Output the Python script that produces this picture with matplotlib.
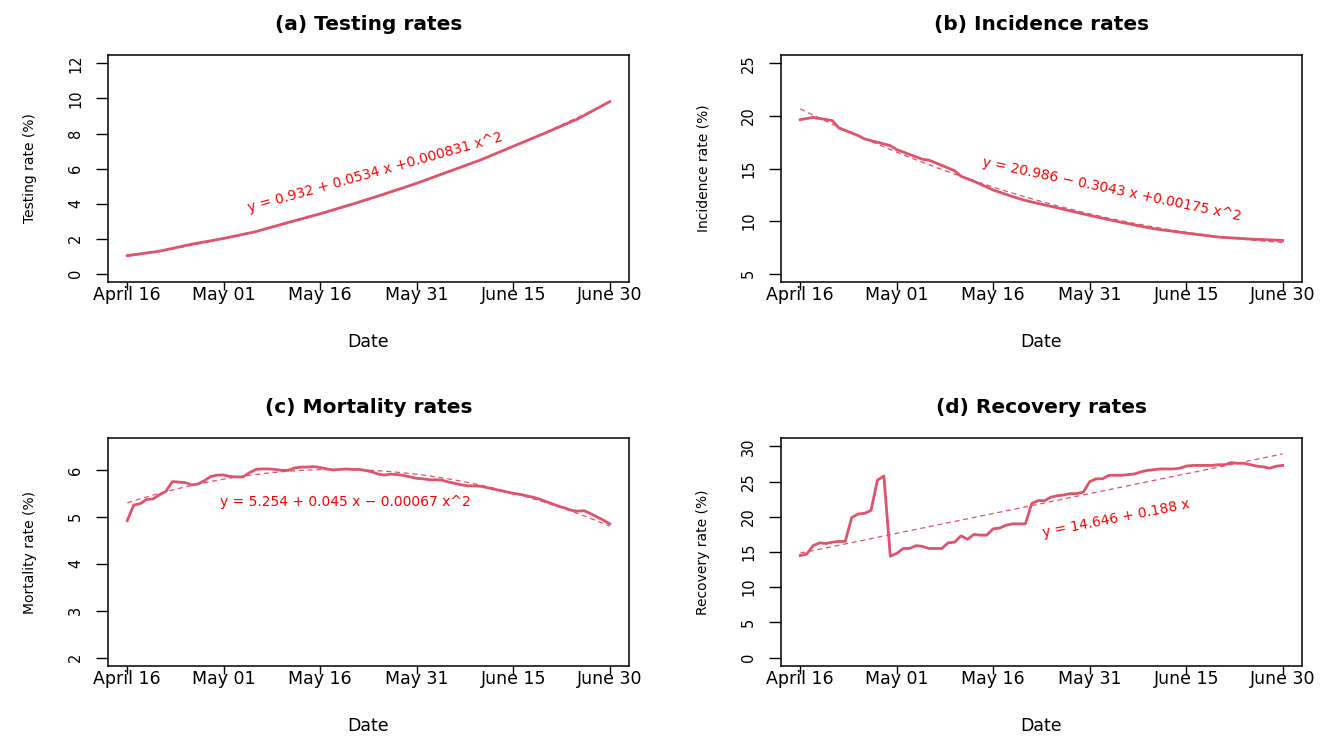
import matplotlib
matplotlib.use('Agg')
import matplotlib.pyplot as plt
import numpy as np

# day index: 1 = April 16 ... 76 = June 30
tick_days = [1, 16, 31, 46, 61, 76]
tick_labels = ['April 16', 'May 01', 'May 16', 'May 31', 'June 15', 'June 30']

# (a) testing rate, read every 5 days
testing_days = [1, 6, 11, 16, 21, 26, 31, 36, 41, 46, 51, 56, 61, 66, 71, 76]
testing_rate = [1.03, 1.28, 1.68, 2.01, 2.40, 2.92, 3.42, 3.97, 4.55, 5.16,
                5.83, 6.50, 7.27, 8.03, 8.83, 9.82]
testing_fit = [0.932, 0.0534, 0.000831]

# (b) incidence rate
incidence_days = [1, 3, 6, 7, 10, 11, 15, 16, 20, 21, 24, 25, 26, 28, 31,
                  34, 36, 41, 46, 51, 56, 61, 66, 71, 76]
incidence_rate = [19.65, 19.87, 19.56, 18.86, 18.14, 17.82, 17.18, 16.80,
                  15.88, 15.80, 15.05, 14.79, 14.26, 13.79, 12.96, 12.33,
                  11.96, 11.26, 10.54, 9.87, 9.27, 8.86, 8.48, 8.29, 8.16]
incidence_fit = [20.986, -0.3043, 0.00175]

# (c) mortality rate, daily
mortality_rate = [4.92, 5.25, 5.28, 5.37, 5.38, 5.47, 5.54, 5.75, 5.74, 5.73,
                  5.68, 5.70, 5.77, 5.86, 5.89, 5.89, 5.86, 5.85, 5.85, 5.94,
                  6.01, 6.02, 6.02, 6.01, 5.99, 5.99, 6.04, 6.06, 6.06, 6.07,
                  6.05, 6.02, 6.00, 6.01, 6.02, 6.01, 6.01, 5.99, 5.96, 5.91,
                  5.89, 5.91, 5.90, 5.88, 5.85, 5.82, 5.81, 5.79, 5.79, 5.78,
                  5.74, 5.71, 5.68, 5.66, 5.66, 5.65, 5.62, 5.59, 5.56, 5.53,
                  5.50, 5.48, 5.45, 5.42, 5.38, 5.33, 5.28, 5.23, 5.19, 5.14,
                  5.12, 5.13, 5.07, 5.00, 4.93, 4.85]
mortality_fit = [5.254, 0.045, -0.00067]

# (d) recovery rate, daily
recovery_rate = [14.5, 14.7, 15.9, 16.3, 16.2, 16.4, 16.5, 16.5, 19.9, 20.4,
                 20.5, 20.9, 25.2, 25.8, 14.4, 14.8, 15.5, 15.5, 15.9, 15.8,
                 15.5, 15.5, 15.5, 16.3, 16.4, 17.3, 16.8, 17.5, 17.4, 17.4,
                 18.3, 18.4, 18.8, 19.0, 19.0, 19.0, 21.9, 22.3, 22.3, 22.8,
                 23.0, 23.1, 23.3, 23.3, 23.5, 25.0, 25.4, 25.4, 25.9, 25.9,
                 25.9, 26.0, 26.1, 26.4, 26.6, 26.7, 26.8, 26.8, 26.8, 26.9,
                 27.2, 27.3, 27.3, 27.3, 27.3, 27.4, 27.4, 27.7, 27.6, 27.6,
                 27.4, 27.2, 27.1, 26.9, 27.2, 27.3]
recovery_fit = [14.646, 0.188]

line_col = '#DF536B'
days = np.arange(1, 77)

fig = plt.figure(figsize=(13.25, 7.36), dpi=100)


def panel(rect, x, y, coef, ylim, yticks, title, ylabel, eq, eq_xy, eq_rot):
    ax = fig.add_axes(rect)
    fit = np.polyval(coef[::-1], days)
    ax.plot(days, fit, color=line_col, lw=0.9, ls=(0, (4, 3)))
    ax.plot(x, y, color=line_col, lw=2.0)
    ax.text(eq_xy[0], eq_xy[1], eq, color='red', fontsize=10,
            rotation=eq_rot, rotation_mode='anchor', ha='center', va='center')
    pad = 0.04 * (ylim[1] - ylim[0])
    ax.set_xlim(-2, 79)
    ax.set_ylim(ylim[0] - pad, ylim[1] + pad)
    ax.set_xticks(tick_days)
    ax.set_xticklabels(tick_labels, fontsize=12.5)
    ax.set_yticks(yticks)
    ax.set_yticklabels([str(v) for v in yticks], fontsize=10.5,
                       rotation=90, va='center')
    ax.tick_params(axis='x', length=6, width=1, pad=-3)
    ax.tick_params(axis='y', length=9, width=1, pad=9)
    for s in ax.spines.values():
        s.set_linewidth(1.1)
    ax.set_title(title, fontsize=14.5, fontweight='bold', pad=18)
    ax.set_xlabel('Date', fontsize=12.5, labelpad=21)
    ax.set_ylabel(ylabel, fontsize=10, labelpad=22)
    return ax


panel([0.0815, 0.6168, 0.3932, 0.3084], testing_days, testing_rate,
      testing_fit, (0, 12), [0, 2, 4, 6, 8, 10, 12],
      '(a) Testing rates', 'Testing rate (%)',
      'y = 0.932 + 0.0534 x +0.000831 x^2', (39.5, 5.76), 15.7)

panel([0.5894, 0.6168, 0.3932, 0.3084], incidence_days, incidence_rate,
      incidence_fit, (5, 25), [5, 10, 15, 20, 25],
      '(b) Incidence rates', 'Incidence rate (%)',
      'y = 20.986 \u2212 0.3043 x +0.00175 x^2', (49.5, 13.0), -11.9)

panel([0.0815, 0.0951, 0.3932, 0.3098], days, mortality_rate,
      mortality_fit, (2, 6.5), [2, 3, 4, 5, 6],
      '(c) Mortality rates', 'Mortality rate (%)',
      'y = 5.254 + 0.045 x \u2212 0.00067 x^2', (34.9, 5.32), 0)

panel([0.5894, 0.0951, 0.3932, 0.3098], days, recovery_rate,
      recovery_fit, (0, 30), [0, 5, 10, 15, 20, 25, 30],
      '(d) Recovery rates', 'Recovery rate (%)',
      'y = 14.646 + 0.188 x', (50.1, 19.8), 11.2)

fig.savefig('out.png', dpi=100)
